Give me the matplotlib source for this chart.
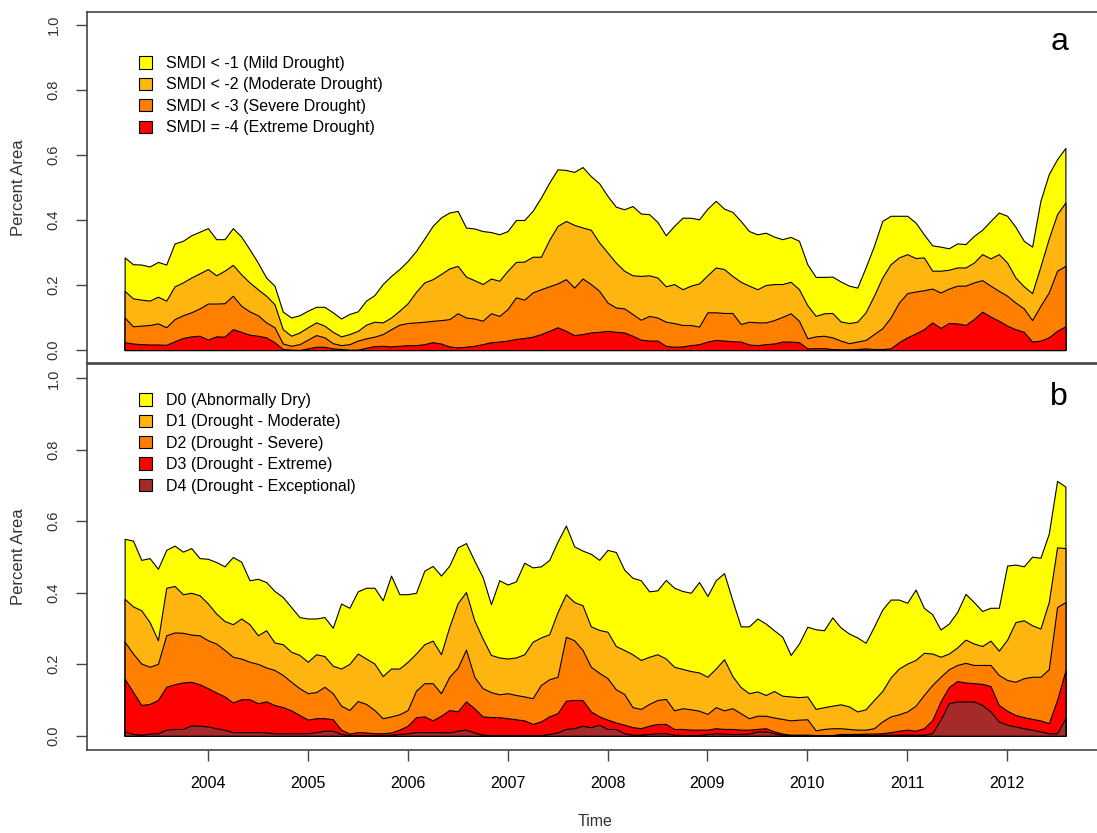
import numpy as np
import matplotlib
matplotlib.use('Agg')
import matplotlib.pyplot as plt
from matplotlib.patches import Patch

plt.rcParams['font.family'] = ['Liberation Sans', 'DejaVu Sans']

# monthly time axis, Mar 2003 .. Aug 2012
t = 2003 + (2 + np.arange(114)) / 12.0

# fraction of area under each SMDI threshold (cumulative classes)
smdi_mild = [
    0.285, 0.264, 0.263, 0.257, 0.271, 0.263, 0.328, 0.336, 0.353, 0.364,
    0.375, 0.341, 0.341, 0.375, 0.349, 0.310, 0.269, 0.223, 0.198, 0.118,
    0.100, 0.107, 0.121, 0.133, 0.133, 0.116, 0.097, 0.111, 0.119, 0.152,
    0.169, 0.203, 0.228, 0.249, 0.274, 0.305, 0.343, 0.382, 0.408, 0.423,
    0.428, 0.377, 0.374, 0.366, 0.363, 0.356, 0.366, 0.400, 0.400, 0.428,
    0.469, 0.515, 0.556, 0.554, 0.548, 0.563, 0.535, 0.513, 0.474, 0.441,
    0.433, 0.443, 0.420, 0.418, 0.394, 0.353, 0.382, 0.407, 0.407, 0.402,
    0.435, 0.459, 0.435, 0.425, 0.397, 0.366, 0.356, 0.361, 0.349, 0.341,
    0.348, 0.336, 0.264, 0.225, 0.225, 0.226, 0.211, 0.198, 0.192, 0.254,
    0.320, 0.397, 0.413, 0.413, 0.413, 0.392, 0.356, 0.322, 0.318, 0.313,
    0.328, 0.326, 0.351, 0.370, 0.397, 0.423, 0.413, 0.379, 0.336, 0.318,
    0.459, 0.541, 0.587, 0.622]
smdi_moderate = [
    0.182, 0.159, 0.155, 0.152, 0.164, 0.152, 0.196, 0.208, 0.223, 0.236,
    0.249, 0.230, 0.244, 0.262, 0.233, 0.208, 0.187, 0.167, 0.141, 0.064,
    0.044, 0.054, 0.070, 0.085, 0.075, 0.056, 0.042, 0.049, 0.059, 0.078,
    0.087, 0.085, 0.100, 0.121, 0.144, 0.179, 0.208, 0.218, 0.234, 0.251,
    0.259, 0.226, 0.215, 0.203, 0.220, 0.213, 0.244, 0.271, 0.272, 0.287,
    0.287, 0.339, 0.382, 0.397, 0.385, 0.377, 0.370, 0.331, 0.300, 0.269,
    0.244, 0.230, 0.228, 0.230, 0.223, 0.196, 0.203, 0.187, 0.198, 0.205,
    0.230, 0.254, 0.249, 0.228, 0.210, 0.198, 0.187, 0.200, 0.203, 0.203,
    0.210, 0.187, 0.138, 0.105, 0.113, 0.114, 0.088, 0.083, 0.087, 0.116,
    0.167, 0.223, 0.264, 0.285, 0.295, 0.283, 0.285, 0.244, 0.244, 0.247,
    0.254, 0.254, 0.269, 0.295, 0.282, 0.295, 0.269, 0.223, 0.196, 0.175,
    0.257, 0.343, 0.418, 0.454]
smdi_severe = [
    0.100, 0.073, 0.075, 0.077, 0.082, 0.070, 0.095, 0.107, 0.116, 0.128,
    0.143, 0.143, 0.144, 0.167, 0.136, 0.119, 0.107, 0.085, 0.070, 0.020,
    0.013, 0.018, 0.032, 0.046, 0.039, 0.021, 0.015, 0.018, 0.029, 0.036,
    0.041, 0.049, 0.064, 0.078, 0.083, 0.085, 0.087, 0.090, 0.092, 0.095,
    0.113, 0.100, 0.097, 0.090, 0.113, 0.105, 0.126, 0.162, 0.155, 0.177,
    0.187, 0.196, 0.205, 0.218, 0.192, 0.220, 0.203, 0.182, 0.146, 0.131,
    0.128, 0.111, 0.093, 0.105, 0.100, 0.087, 0.083, 0.077, 0.077, 0.072,
    0.116, 0.116, 0.114, 0.114, 0.080, 0.087, 0.085, 0.085, 0.092, 0.102,
    0.113, 0.090, 0.036, 0.042, 0.044, 0.039, 0.029, 0.021, 0.026, 0.031,
    0.049, 0.067, 0.100, 0.146, 0.175, 0.180, 0.184, 0.189, 0.177, 0.189,
    0.198, 0.198, 0.208, 0.215, 0.198, 0.182, 0.167, 0.146, 0.128, 0.092,
    0.136, 0.177, 0.244, 0.259]
smdi_extreme = [
    0.024, 0.020, 0.018, 0.017, 0.017, 0.016, 0.027, 0.037, 0.042, 0.044,
    0.032, 0.042, 0.041, 0.064, 0.056, 0.047, 0.044, 0.039, 0.024, 0.003,
    0.001, 0.000, 0.005, 0.010, 0.010, 0.005, 0.003, 0.001, 0.001, 0.007,
    0.012, 0.013, 0.011, 0.013, 0.015, 0.015, 0.018, 0.024, 0.020, 0.011,
    0.008, 0.010, 0.013, 0.018, 0.024, 0.026, 0.029, 0.034, 0.037, 0.041,
    0.049, 0.059, 0.070, 0.059, 0.046, 0.049, 0.054, 0.056, 0.059, 0.056,
    0.054, 0.044, 0.032, 0.029, 0.029, 0.013, 0.010, 0.011, 0.015, 0.018,
    0.026, 0.031, 0.029, 0.027, 0.026, 0.017, 0.015, 0.018, 0.020, 0.026,
    0.026, 0.024, 0.005, 0.006, 0.006, 0.003, 0.002, 0.002, 0.003, 0.005,
    0.003, 0.003, 0.005, 0.024, 0.039, 0.051, 0.064, 0.085, 0.068, 0.083,
    0.082, 0.077, 0.095, 0.118, 0.103, 0.090, 0.075, 0.064, 0.056, 0.026,
    0.029, 0.039, 0.059, 0.073]

# fraction of area in US Drought Monitor classes (D0-D4 cumulative)
usdm_d0 = [
    0.551, 0.546, 0.492, 0.497, 0.467, 0.520, 0.532, 0.515, 0.525, 0.497,
    0.495, 0.486, 0.474, 0.500, 0.487, 0.435, 0.439, 0.430, 0.405, 0.388,
    0.360, 0.332, 0.328, 0.328, 0.332, 0.302, 0.370, 0.358, 0.404, 0.414,
    0.414, 0.379, 0.448, 0.396, 0.396, 0.400, 0.462, 0.475, 0.448, 0.476,
    0.527, 0.539, 0.490, 0.444, 0.368, 0.435, 0.423, 0.432, 0.484, 0.471,
    0.474, 0.492, 0.543, 0.588, 0.530, 0.518, 0.509, 0.492, 0.520, 0.514,
    0.465, 0.442, 0.435, 0.404, 0.407, 0.436, 0.414, 0.405, 0.400, 0.430,
    0.391, 0.435, 0.455, 0.379, 0.306, 0.306, 0.328, 0.314, 0.295, 0.277,
    0.226, 0.258, 0.305, 0.298, 0.295, 0.331, 0.303, 0.286, 0.275, 0.260,
    0.305, 0.353, 0.381, 0.381, 0.372, 0.409, 0.358, 0.340, 0.297, 0.314,
    0.346, 0.397, 0.374, 0.349, 0.358, 0.358, 0.476, 0.479, 0.474, 0.501,
    0.498, 0.565, 0.713, 0.697]
usdm_d1 = [
    0.383, 0.362, 0.351, 0.318, 0.267, 0.414, 0.419, 0.396, 0.400, 0.393,
    0.370, 0.342, 0.321, 0.312, 0.328, 0.312, 0.281, 0.295, 0.261, 0.256,
    0.235, 0.226, 0.207, 0.228, 0.223, 0.196, 0.188, 0.201, 0.230, 0.216,
    0.202, 0.167, 0.188, 0.188, 0.207, 0.230, 0.256, 0.266, 0.228, 0.305,
    0.371, 0.402, 0.323, 0.272, 0.226, 0.219, 0.216, 0.219, 0.228, 0.263,
    0.275, 0.284, 0.346, 0.396, 0.374, 0.365, 0.306, 0.296, 0.291, 0.251,
    0.240, 0.228, 0.212, 0.221, 0.228, 0.216, 0.193, 0.187, 0.181, 0.177,
    0.165, 0.188, 0.214, 0.167, 0.136, 0.119, 0.124, 0.114, 0.125, 0.112,
    0.110, 0.108, 0.110, 0.075, 0.080, 0.084, 0.088, 0.082, 0.068, 0.074,
    0.100, 0.125, 0.163, 0.188, 0.202, 0.212, 0.232, 0.230, 0.221, 0.230,
    0.247, 0.269, 0.258, 0.251, 0.266, 0.238, 0.269, 0.318, 0.323, 0.309,
    0.300, 0.374, 0.527, 0.525]
usdm_d2 = [
    0.263, 0.230, 0.202, 0.193, 0.201, 0.281, 0.289, 0.288, 0.283, 0.281,
    0.267, 0.258, 0.240, 0.221, 0.216, 0.207, 0.201, 0.191, 0.184, 0.170,
    0.151, 0.133, 0.119, 0.122, 0.137, 0.119, 0.084, 0.072, 0.097, 0.089,
    0.072, 0.049, 0.054, 0.060, 0.072, 0.126, 0.147, 0.147, 0.119, 0.165,
    0.190, 0.241, 0.165, 0.133, 0.122, 0.116, 0.119, 0.114, 0.110, 0.105,
    0.142, 0.158, 0.165, 0.277, 0.267, 0.240, 0.193, 0.176, 0.161, 0.130,
    0.117, 0.080, 0.075, 0.089, 0.100, 0.103, 0.071, 0.077, 0.074, 0.070,
    0.061, 0.080, 0.071, 0.077, 0.063, 0.049, 0.056, 0.056, 0.051, 0.047,
    0.043, 0.045, 0.046, 0.015, 0.019, 0.021, 0.021, 0.019, 0.017, 0.017,
    0.021, 0.040, 0.054, 0.060, 0.068, 0.084, 0.114, 0.142, 0.165, 0.186,
    0.198, 0.204, 0.198, 0.198, 0.198, 0.170, 0.156, 0.151, 0.161, 0.165,
    0.165, 0.186, 0.360, 0.374]
usdm_d3 = [
    0.159, 0.123, 0.086, 0.089, 0.100, 0.137, 0.144, 0.149, 0.151, 0.144,
    0.133, 0.121, 0.110, 0.093, 0.102, 0.102, 0.091, 0.096, 0.086, 0.080,
    0.071, 0.058, 0.045, 0.049, 0.049, 0.046, 0.017, 0.006, 0.010, 0.009,
    0.007, 0.007, 0.009, 0.017, 0.028, 0.052, 0.054, 0.043, 0.056, 0.072,
    0.068, 0.096, 0.077, 0.054, 0.052, 0.052, 0.049, 0.046, 0.043, 0.033,
    0.040, 0.054, 0.063, 0.098, 0.100, 0.100, 0.068, 0.054, 0.045, 0.037,
    0.031, 0.024, 0.021, 0.028, 0.033, 0.033, 0.019, 0.019, 0.017, 0.017,
    0.017, 0.021, 0.019, 0.019, 0.017, 0.017, 0.019, 0.021, 0.012, 0.006,
    0.003, 0.003, 0.003, 0.002, 0.002, 0.002, 0.005, 0.005, 0.005, 0.006,
    0.006, 0.007, 0.010, 0.014, 0.017, 0.014, 0.021, 0.043, 0.096, 0.136,
    0.153, 0.149, 0.147, 0.145, 0.139, 0.086, 0.070, 0.058, 0.052, 0.047,
    0.043, 0.035, 0.100, 0.182]
usdm_d4 = [
    0.012, 0.005, 0.003, 0.006, 0.007, 0.017, 0.019, 0.019, 0.029, 0.028,
    0.026, 0.021, 0.017, 0.010, 0.010, 0.010, 0.010, 0.009, 0.007, 0.007,
    0.007, 0.007, 0.007, 0.010, 0.014, 0.014, 0.005, 0.002, 0.002, 0.002,
    0.002, 0.002, 0.003, 0.005, 0.007, 0.010, 0.010, 0.010, 0.010, 0.009,
    0.014, 0.017, 0.009, 0.003, 0.002, 0.002, 0.002, 0.002, 0.002, 0.002,
    0.002, 0.005, 0.009, 0.019, 0.021, 0.028, 0.024, 0.031, 0.019, 0.019,
    0.007, 0.003, 0.003, 0.005, 0.007, 0.007, 0.003, 0.002, 0.002, 0.002,
    0.005, 0.007, 0.006, 0.005, 0.005, 0.006, 0.012, 0.012, 0.007, 0.002,
    0.001, 0.001, 0.001, 0.001, 0.001, 0.001, 0.001, 0.002, 0.002, 0.002,
    0.002, 0.003, 0.003, 0.003, 0.003, 0.003, 0.003, 0.007, 0.045, 0.091,
    0.096, 0.096, 0.096, 0.086, 0.068, 0.040, 0.031, 0.026, 0.021, 0.017,
    0.012, 0.007, 0.007, 0.049]

smdi_labels = ['SMDI < -1 (Mild Drought)', 'SMDI < -2 (Moderate Drought)',
               'SMDI < -3 (Severe Drought)', 'SMDI = -4 (Extreme Drought)']
usdm_labels = ['D0 (Abnormally Dry)', 'D1 (Drought - Moderate)',
               'D2 (Drought - Severe)', 'D3 (Drought - Extreme)',
               'D4 (Drought - Exceptional)']
colors = ['#FFFF00', '#FFB50F', '#FF8000', '#FF0000', '#A52A2A']
years = list(range(2004, 2013))

BOX = '#444444'
TICKCOL = '#333333'

fig = plt.figure(figsize=(10.97, 8.33), dpi=100)
ax1 = fig.add_axes([0.0793, 0.5642, 0.9262, 0.4214])
ax2 = fig.add_axes([0.0793, 0.0996, 0.9262, 0.4634])

# R-style 4% padding on the time axis
span = t[-1] - t[0]
xlim = (t[0] - 0.04 * span, t[-1] + 0.04 * span)


def area_panel(ax, series, labels, letter, leg_top):
    # largest class first, smaller ones drawn on top
    for vals, c in zip(series, colors):
        ax.fill_between(t, 0, vals, facecolor=c, edgecolor='black', linewidth=0.8)
    ax.set_xlim(*xlim)
    ax.set_ylim(-0.04, 1.04)
    ax.set_yticks([0.0, 0.2, 0.4, 0.6, 0.8, 1.0])
    ax.set_yticklabels(['0.0', '0.2', '0.4', '0.6', '0.8', '1.0'])
    ax.tick_params(axis='y', length=8, width=1, color=BOX, pad=11,
                   labelsize=10.5, labelcolor=TICKCOL)
    for lab in ax.get_yticklabels():
        lab.set_rotation(90)
        lab.set_va('center')
    for s in ax.spines.values():
        s.set_color(BOX)
        s.set_linewidth(1.2)
    ax.set_ylabel('Percent Area', fontsize=12, color=TICKCOL)
    ax.yaxis.set_label_coords(-0.06, 0.5)

    handles = [Patch(facecolor=c, edgecolor='black', linewidth=0.8)
               for c in colors[:len(labels)]]
    ax.legend(handles, labels, loc='upper left', bbox_to_anchor=(0.051, leg_top),
              frameon=False, fontsize=11.5, handlelength=0.8, handleheight=0.8,
              handletextpad=0.9, labelspacing=0.40, borderpad=0, borderaxespad=0)
    ax.text(0.957, 0.9145, letter, transform=ax.transAxes, fontsize=23,
            ha='center', va='center')


area_panel(ax1, [smdi_mild, smdi_moderate, smdi_severe, smdi_extreme],
           smdi_labels, 'a', 0.8746)
area_panel(ax2, [usdm_d0, usdm_d1, usdm_d2, usdm_d3, usdm_d4],
           usdm_labels, 'b', 0.925)

ax1.set_xticks([])
ax2.set_xticks(years)
ax2.set_xticklabels([str(y) for y in years])
ax2.tick_params(axis='x', length=8, width=1, color=BOX, pad=10.5,
                labelsize=11.5, labelcolor='black')
ax2.set_xlabel('Time', fontsize=11.5, color=TICKCOL)
ax2.xaxis.set_label_coords(0.5, -0.166)

fig.savefig('out.png', dpi=100)
